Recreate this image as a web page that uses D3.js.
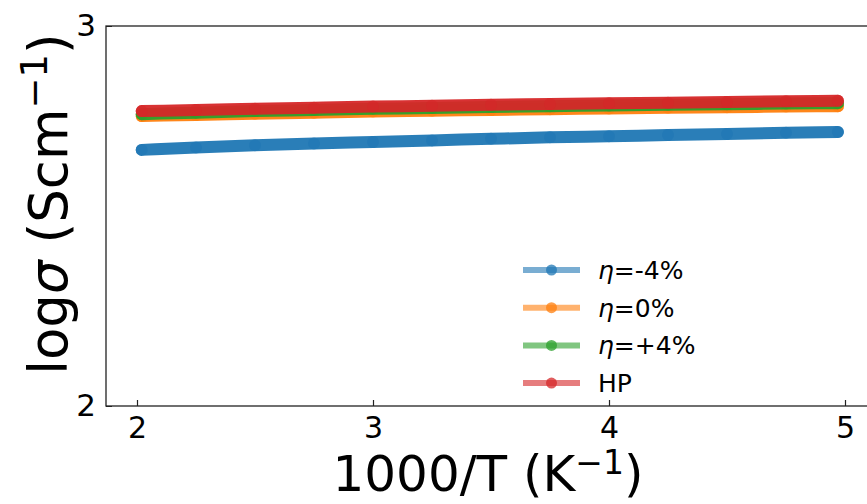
<!DOCTYPE html>
<html>
<head>
<meta charset="utf-8">
<script src="https://cdn.jsdelivr.net/npm/d3@7"></script>
<style>
  body { margin: 0; background: #fff; }
  svg { display: block; font-family: "DejaVu Sans", sans-serif; }
</style>
</head>
<body>
<svg id="chart" width="867" height="504"></svg>
<script>
// ---- data ----
const xValues = [2.02, 2.25, 2.5, 2.75, 3.0, 3.25, 3.5, 3.75, 4.0, 4.25, 4.5, 4.75, 4.97];
const seriesNames = ["η=-4%", "η=0%", "η=+4%", "HP"];
const etaMinus4 = [2.674, 2.680, 2.686, 2.691, 2.695, 2.699, 2.703, 2.707, 2.710, 2.713, 2.716, 2.719, 2.721];
const eta0      = [2.763, 2.766, 2.769, 2.772, 2.775, 2.777, 2.779, 2.781, 2.783, 2.785, 2.786, 2.788, 2.789];
const etaPlus4  = [2.768, 2.772, 2.776, 2.779, 2.782, 2.784, 2.787, 2.789, 2.791, 2.793, 2.794, 2.796, 2.797];
const hp        = [2.776, 2.779, 2.782, 2.785, 2.788, 2.790, 2.793, 2.795, 2.797, 2.798, 2.800, 2.802, 2.803];
const xTicks = [2, 3, 4, 5];
const yTicks = [2, 3];
const colors = ["#1f77b4", "#ff7f0e", "#2ca02c", "#d62728"];

const seriesValues = [etaMinus4, eta0, etaPlus4, hp];

const svg = d3.select("#chart");
const frame = { left: 106, top: 26, bottom: 406, right: 900 };

const x = d3.scaleLinear().domain([2, 5]).range([137, 845]);
const y = d3.scaleLinear().domain([2, 3]).range([frame.bottom, frame.top]);

// series
const line = d3.line().x((d, i) => x(xValues[i])).y(d => y(d)).curve(d3.curveMonotoneX);
seriesValues.forEach((vals, si) => {
  const g = svg.append("g");
  g.append("path")
    .datum(vals)
    .attr("d", line)
    .attr("fill", "none")
    .attr("stroke", colors[si])
    .attr("stroke-width", 12)
    .attr("stroke-linecap", "round")
    .attr("stroke-opacity", 0.95);
  g.selectAll("circle")
    .data(vals)
    .join("circle")
    .attr("cx", (d, i) => x(xValues[i]))
    .attr("cy", d => y(d))
    .attr("r", 6)
    .attr("fill", colors[si])
    .attr("fill-opacity", 0.6);
});

// frame (spines)
svg.append("rect")
  .attr("x", frame.left).attr("y", frame.top)
  .attr("width", frame.right - frame.left).attr("height", frame.bottom - frame.top)
  .attr("fill", "none").attr("stroke", "#222").attr("stroke-width", 1.3);

// x axis (ticks inward)
const xAxis = svg.append("g").attr("transform", `translate(0,${frame.bottom})`)
  .call(d3.axisBottom(x).tickValues(xTicks).tickSizeInner(-6).tickSizeOuter(0).tickPadding(11).tickFormat(d3.format("d")));
xAxis.select(".domain").remove();
xAxis.selectAll("line").attr("stroke", "#222").attr("stroke-width", 1.2);
xAxis.selectAll("text").attr("font-size", 30).attr("fill", "#000").attr("font-family", "DejaVu Sans");

// y axis
const yAxis = svg.append("g").attr("transform", `translate(${frame.left},0)`)
  .call(d3.axisLeft(y).tickValues(yTicks).tickSizeInner(-6).tickSizeOuter(0).tickPadding(10).tickFormat(d3.format("d")));
yAxis.select(".domain").remove();
yAxis.selectAll("line").attr("stroke", "#222");
yAxis.selectAll("text").attr("font-size", 31).attr("fill", "#000").attr("font-family", "DejaVu Sans");

// x label
const xl = svg.append("text")
  .attr("x", 488).attr("y", 491)
  .attr("text-anchor", "middle").attr("font-size", 50).attr("fill", "#000");
xl.append("tspan").text("1000/T (K");
xl.append("tspan").attr("font-size", 33).attr("dy", -17).text("−1");
xl.append("tspan").attr("dy", 17).text(")");

// y label
const yl = svg.append("text")
  .attr("transform", `translate(67,204) rotate(-90)`)
  .attr("text-anchor", "middle").attr("font-size", 53).attr("fill", "#000");
yl.append("tspan").text("log");
yl.append("tspan").attr("font-style", "italic").text("σ");
yl.append("tspan").text(" (Scm");
yl.append("tspan").attr("font-size", 37).attr("dy", -20).text("−1");
yl.append("tspan").attr("dy", 20).text(")");

// legend
const legend = svg.append("g");
const legY0 = 270, legStep = 37.7;
seriesNames.forEach((name, i) => {
  const cy = legY0 + i * legStep;
  legend.append("line")
    .attr("x1", 523).attr("x2", 580).attr("y1", cy).attr("y2", cy)
    .attr("stroke", colors[i]).attr("stroke-width", 6).attr("stroke-opacity", 0.6);
  legend.append("circle")
    .attr("cx", 551.5).attr("cy", cy).attr("r", 5.5)
    .attr("fill", colors[i]).attr("fill-opacity", 0.75);
  const t = legend.append("text")
    .attr("x", 598).attr("y", cy + 9).attr("font-size", 25).attr("fill", "#000");
  if (name.startsWith("η")) {
    t.append("tspan").attr("font-style", "italic").text("η");
    t.append("tspan").text(name.slice(1));
  } else {
    t.text(name);
  }
});
</script>
</body>
</html>
